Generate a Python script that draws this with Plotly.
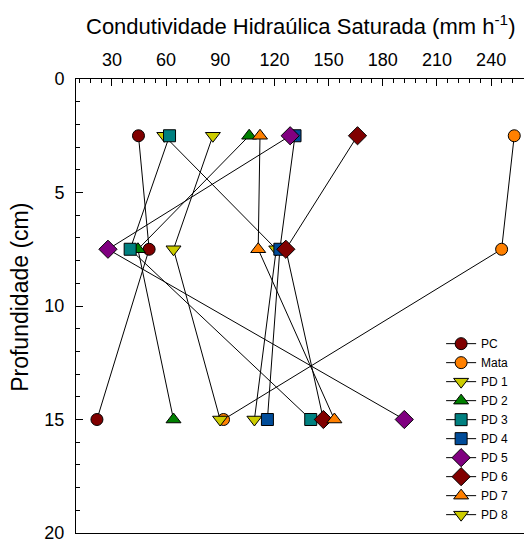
import plotly.graph_objects as go

# Depths sampled (cm)
depths = [2.5, 7.5, 15]

# Saturated hydraulic conductivity (mm h-1) per treatment, at each depth
series_names = ["PC", "Mata", "PD 1", "PD 2", "PD 3", "PD 4", "PD 5", "PD 6", "PD 7", "PD 8"]
pc = [44.7, 50.6, 21.7]
mata = [252.8, 245.8, 91.8]
pd1 = [59.0, 121.0, 108.9]
pd2 = [106.0, 44.4, 64.1]
pd3 = [61.9, 40.1, 140.1]
pd4 = [131.4, 123.0, 116.1]
pd5 = [128.7, 27.8, 191.9]
pd6 = [166.0, 126.3, 147.1]
pd7 = [112.0, 111.0, 153.2]
pd8 = [85.9, 64.1, 89.9]
series_values = [pc, mata, pd1, pd2, pd3, pd4, pd5, pd6, pd7, pd8]

x_tick_values = [30, 60, 90, 120, 150, 180, 210, 240]
y_tick_values = [0, 5, 10, 15, 20]

styles = [
    ("circle", "#800000", 12),
    ("circle", "#FF8000", 12),
    ("triangle-down", "#CCCC00", 13),
    ("triangle-up", "#008000", 13),
    ("square", "#008080", 12),
    ("square", "#004C99", 12),
    ("diamond", "#800080", 14),
    ("diamond", "#800000", 14),
    ("triangle-up", "#FF8000", 13),
    ("triangle-down", "#CCCC00", 13),
]

fig = go.Figure()
for name, vals, (sym, color, size) in zip(series_names, series_values, styles):
    fig.add_trace(go.Scatter(
        x=vals, y=depths, name=name, mode="lines+markers",
        line=dict(color="black", width=1),
        marker=dict(symbol=sym, color=color, size=size,
                    line=dict(color="black", width=1)),
    ))

font_family = "Liberation Sans, Arial, sans-serif"

fig.update_layout(
    width=524, height=542,
    margin=dict(l=76, r=0, t=79, b=9),
    paper_bgcolor="white", plot_bgcolor="white",
    font=dict(family=font_family, color="black", size=18),
    showlegend=True,
    legend=dict(
        x=0.815, y=0.449, xanchor="left", yanchor="top",
        font=dict(size=12, family=font_family),
        bgcolor="rgba(0,0,0,0)", borderwidth=0,
        itemwidth=30, tracegroupgap=0,
    ),
    xaxis=dict(
        side="top", range=[10.1, 258.2],
        tickmode="array", tickvals=x_tick_values,
        ticks="inside", ticklen=7, tickwidth=1, tickcolor="black",
        showline=True, linecolor="black", linewidth=1, mirror=True,
        showgrid=False, zeroline=False,
        ticklabelstandoff=5, ticklabeloverflow="allow",
        tickfont=dict(size=18),
        minor=dict(dtick=6, tick0=0, ticks="inside", ticklen=4,
                   tickwidth=1, tickcolor="black", showgrid=False),
    ),
    yaxis=dict(
        range=[20, 0],
        tickmode="array", tickvals=y_tick_values,
        ticks="inside", ticklen=7, tickwidth=1, tickcolor="black",
        showline=True, linecolor="black", linewidth=1,
        showgrid=False, zeroline=False,
        ticklabelstandoff=7, ticklabeloverflow="allow",
        tickfont=dict(size=18),
        minor=dict(dtick=1, tick0=0, ticks="inside", ticklen=4,
                   tickwidth=1, tickcolor="black", showgrid=False),
    ),
    annotations=[
        dict(text="Condutividade Hidraúlica Saturada (mm h<sup>-1</sup>)",
             xref="paper", yref="paper", x=0.502, y=1.119,
             xanchor="center", yanchor="middle", showarrow=False,
             font=dict(size=22, family=font_family)),
        dict(text="Profundidade (cm)",
             xref="paper", yref="paper", x=-0.125, y=0.518,
             xanchor="center", yanchor="middle", showarrow=False,
             textangle=-90, font=dict(size=23, family=font_family)),
    ],
)

fig.write_html("out.html")
